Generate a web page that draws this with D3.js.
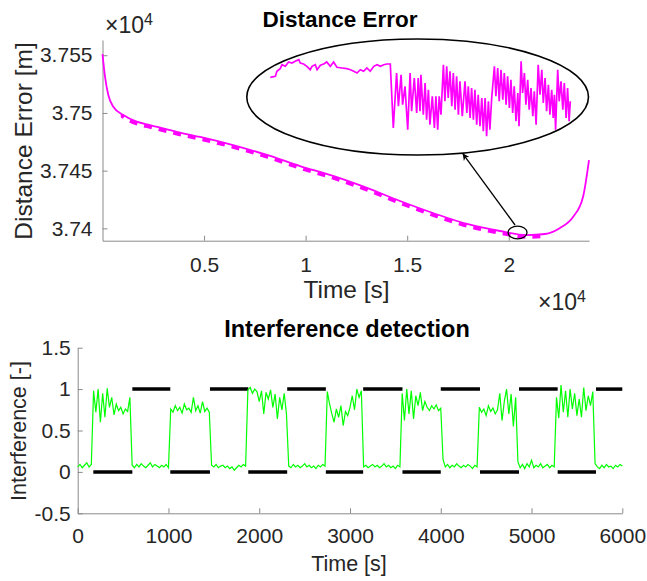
<!DOCTYPE html>
<html>
<head>
<meta charset="utf-8">
<script src="https://cdn.jsdelivr.net/npm/d3@7"></script>
<style>
  body { margin: 0; background: #fff; }
  svg { font-family: 'Liberation Sans', Arial, sans-serif; }
</style>
</head>
<body>
<div id="chart"></div>
<script>
// ---- data: distance error (top) ----
const distTime = [0, 123, 286, 532, 1024, 1684, 2338, 3653, 4800, 6424, 8098, 9723, 11347,
  13021, 14646, 16270, 17944, 19569, 20898, 21784, 22523, 23163, 23655, 23950]
const distError = [37551, 37531.4, 37515.5, 37505.4, 37498.2, 37492.4, 37489.5, 37483.7, 37479.2,
  37472.2, 37463.6, 37454.0, 37445.4, 37435.0, 37423.7, 37413.3, 37403.8, 37397.7, 37394.2,
  37395.1, 37400.3, 37409.8, 37427.2, 37459.2]

// zoomed detail shown inside the big ellipse (relative time, relative error)
const insetTime = [0.1, 1.8, 2.3, 3.4, 4, 5.1, 6.2, 7.3, 8.4, 9.6, 10.1, 11.2, 12.3, 13.4, 14, 15.1,
  15.7, 16.8, 17.9, 18.9, 20.1, 21.2, 22.3, 24, 25.6, 26.8, 27.9, 29, 30.1, 31.2, 32.3, 33.4, 34.6,
  35.7, 36.8, 37.9, 39, 40.1, 41.1,
  42.2, 42.8, 43.7, 44.2, 45, 45.9, 46.7, 47.2, 48.1, 48.9, 49.4, 50, 50.3, 51.1, 51.7, 52.2, 52.8,
  53.3, 54.1, 54.8, 55.3, 55.9, 56.4, 57,
  57.8, 58.3, 58.9, 59.4, 60, 60.6, 61.1, 61.7, 62.2, 62.8, 63.3, 64.1, 65, 65.6, 66.1, 66.7, 67.2,
  67.8, 68.3, 68.9, 69.4, 70, 70.6, 71.1, 71.7, 72.2, 72.8, 73.3, 73.9,
  74.8, 75.3, 75.9, 76.4, 77, 77.6, 78.1, 78.7, 79.2, 79.8, 80.3, 80.9, 81.4, 82, 82.6, 83,
  83.7, 84.2, 84.8, 85.3, 85.9, 86.4, 87, 87.6, 88.1, 88.7,
  89.4, 90, 90.6, 91.1, 91.7, 92.2, 92.8, 93.3, 93.9, 94.4, 94.8, 95.2,
  95.9, 96.4, 97, 97.6, 98.1, 98.7, 99.2, 99.7, 100.1]
const insetError = [5.27, 5.37, 5.87, 6.13, 6.53, 6.37, 6.8, 6.7, 6.87, 7.03, 6.7, 6.6, 6.37, 6.03,
  6.37, 6.53, 6.03, 6.47, 6.6, 6.8, 6.37, 6.8, 6.27, 6.2, 6.13, 6.03, 5.87, 5.7, 6.03, 5.87, 6.2,
  5.87, 6.37, 6.53, 6.37, 6.53, 6.6, 6.6, 0.2,
  5.7, 2.37, 5.53, 2.53, 4.37, 0.03, 5.7, 1.87, 5.2, 1.7, 5.2, 1.87, 5.53, 1.53, 4.7, 1.03, 4.03,
  0.53, 3.37, 0.2, 3.37, 0.03, 3.37, 1.53,
  6.53, 2.87, 6.37, 3.2, 5.87, 2.37, 5.7, 2.03, 5.37, 1.53, 4.87, 1.37, 4.87, 1.7, 4.37, 1.2, 4.2,
  1.03, 4.03, 0.53, 3.53, 0.37, 3.2, -0.13, 3.2, -0.63, 2.87, 0.03, 3.2,
  6.37, 3.37, 6.2, 2.87, 6.03, 3.03, 5.7, 2.53, 5.37, 2.2, 5.03, 1.7, 4.37, 0.87, 3.7, 0.37,
  6.87, 3.7, 5.7, 2.53, 5.03, 2.03, 4.2, 1.37, 3.87, 0.53,
  6.53, 3.53, 6.03, 2.7, 5.2, 1.87, 4.53, 1.53, 4.03, 1.2, 3.53, 0.03,
  6.03, 2.87, 4.87, 2.03, 4.7, 1.2, 4.2, 0.87, 2.87]

// annotation ellipses (data units of top plot)
const bigEllipse = { t: 15514, v: 37513.8, rt: 8410, rv: 50.3 }
const smallEllipse = { t: 20432, v: 37396.4, rt: 467, rv: 5.6 }
const arrowFrom = { t: 20310, v: 37402.9 }
const arrowTo = { t: 17727, v: 37465 }

const topXTicks = [5000, 10000, 15000, 20000]
const topXTickLabels = ['0.5', '1', '1.5', '2']
const topYTicks = [37400, 37450, 37500, 37550]
const topYTickLabels = ['3.74', '3.745', '3.75', '3.755']

// ---- data: interference detection (bottom) ----
const sampleStep = 25 // s
const detected = [
  0.06, 0.09, 0.05, 0.08, 0.11, 0.06, 0.09,
  0.98, 0.72, 1.0, 0.6, 0.95, 0.66, 1.01, 0.78, 0.9, 0.69, 0.82, 0.74, 0.78, 0.7, 0.76, 0.73, 0.9,
  0.08, 0.05, 0.09, 0.06, 0.1, 0.07, 0.05, 0.08, 0.11, 0.06, 0.09, 0.07, 0.05, 0.08, 0.06, 0.09, 0.05,
  0.76, 0.72, 0.8, 0.74, 0.78, 0.71, 0.82, 0.75, 0.77, 0.72, 0.9, 0.74, 0.8, 0.71, 0.85, 0.73, 0.77, 0.72,
  0.08, 0.06, 0.09, 0.05, 0.07, 0.08, 0.05, 0.07, 0.04, 0.06, 0.02, 0.05, 0.08, 0.06, 0.09, 0.07,
  0.99, 1.02, 0.95, 1.0, 0.97, 0.85, 0.98, 0.7, 0.96, 0.88, 0.99, 0.78, 0.94, 0.64, 0.9, 0.75, 0.95, 0.7,
  0.07, 0.05, 0.09, 0.06, 0.08, 0.05, 0.07, 0.1, 0.06, 0.08, 0.05, 0.07, 0.04, 0.08, 0.06, 0.09, 0.07,
  0.97, 0.82, 0.7, 0.6, 0.76, 0.66, 0.8, 0.56, 0.73, 0.68, 0.78, 0.92, 0.75, 1.0, 0.9, 0.98,
  0.06, 0.08, 0.05, 0.07, 0.09, 0.06, 0.08, 0.05, 0.07, 0.1, 0.06, 0.08, 0.05, 0.07, 0.04, 0.08, 0.06,
  0.95, 0.62, 1.0, 0.7, 0.98, 0.64, 0.92, 0.8, 0.96, 0.74, 0.85, 0.78, 0.74, 0.8, 0.76, 0.81, 0.74, 0.77,
  0.15, 0.06, 0.09, 0.05, 0.08, 0.06, 0.1, 0.07, 0.05, 0.08, 0.06, 0.09, 0.07, 0.04, 0.08, 0.06,
  0.78, 0.72, 0.76, 0.68, 0.8, 0.73, 0.77, 0.7, 0.75, 0.95, 0.62, 0.85, 1.0, 0.7, 0.94, 0.55, 0.9,
  0.12, 0.05, 0.09, 0.04, 0.1, 0.06, 0.14, 0.05, 0.08, 0.06, 0.1, 0.05, 0.07, 0.09, 0.05, 0.08, 0.06,
  0.9, 0.65, 1.05, 0.72, 0.98, 0.66, 1.0, 0.76, 0.95, 0.68, 0.88, 0.66, 1.02, 0.74, 0.92, 0.8, 0.97,
  0.1, 0.06, 0.04, 0.08, 0.05, 0.09, 0.06, 0.07, 0.04, 0.08, 0.06, 0.09, 0.07]

// true interference state, piecewise
const refStart = [172, 602, 1020, 1457, 1879, 2308, 2734, 3145, 3578, 4000, 4432, 4862, 5288, 5710]
const refEnd = [602, 1020, 1457, 1879, 2308, 2734, 3145, 3578, 4000, 4432, 4862, 5288, 5710, 6000]
const refLevel = [0, 1, 0, 1, 0, 1, 0, 1, 0, 1, 0, 1, 0, 1]

const botXTicks = [0, 1000, 2000, 3000, 4000, 5000, 6000]
const botXTickLabels = ['0', '1000', '2000', '3000', '4000', '5000', '6000']
const botYTicks = [-0.5, 0, 0.5, 1, 1.5]
const botYTickLabels = ['-0.5', '0', '0.5', '1', '1.5']

// ---- layout ----
const width = 647
const height = 581
const axisColor = '#8a8a8a'
const textColor = '#262626'

const svg = d3.select('#chart').append('svg')
  .attr('width', width)
  .attr('height', height)

const defs = svg.append('defs')

function styleAxis(g, fontSize) {
  g.attr('font-family', null).attr('font-size', null)
  g.select('.domain').attr('stroke', axisColor)
  g.selectAll('.tick line').attr('stroke', axisColor)
  g.selectAll('.tick text').attr('fill', textColor).style('font-size', fontSize + 'px')
}

// ================= top plot =================
const x1 = d3.scaleLinear().domain([0, 23950]).range([102.5, 589])
const y1 = d3.scaleLinear().domain([37389.3, 37563.2]).range([240.7, 40])

const topPlot = svg.append('g')

topPlot.append('g')
  .attr('transform', `translate(0, ${y1.range()[0]})`)
  .call(d3.axisBottom(x1).tickValues(topXTicks)
    .tickFormat((d, i) => topXTickLabels[i])
    .tickSizeInner(-5).tickSizeOuter(0).tickPadding(16))
  .call(g => styleAxis(g, 21))

topPlot.append('g')
  .attr('transform', `translate(${x1.range()[0]}, 0)`)
  .call(d3.axisLeft(y1).tickValues(topYTicks)
    .tickFormat((d, i) => topYTickLabels[i])
    .tickSizeInner(-5).tickSizeOuter(0).tickPadding(10))
  .call(g => styleAxis(g, 21))

const distData = distTime.map((t, i) => ({ t, v: distError[i] }))
const distLine = d3.line().x(d => x1(d.t)).y(d => y1(d.v)).curve(d3.curveMonotoneX)

defs.append('clipPath').attr('id', 'dashClip')
  .append('rect')
  .attr('x', x1(900)).attr('y', 0)
  .attr('width', x1(21800) - x1(900)).attr('height', 300)

// thick dashed trace under the main one
topPlot.append('path')
  .datum(distData)
  .attr('d', distLine)
  .attr('fill', 'none')
  .attr('stroke', '#ff00ff')
  .attr('stroke-width', 3.5)
  .attr('stroke-dasharray', '8,7')
  .attr('transform', 'translate(0, 2)')
  .attr('clip-path', 'url(#dashClip)')

topPlot.append('path')
  .datum(distData)
  .attr('d', distLine)
  .attr('fill', 'none')
  .attr('stroke', '#ff00ff')
  .attr('stroke-width', 1.8)

// annotations
topPlot.append('ellipse')
  .attr('cx', x1(bigEllipse.t)).attr('cy', y1(bigEllipse.v))
  .attr('rx', x1(bigEllipse.t + bigEllipse.rt) - x1(bigEllipse.t))
  .attr('ry', y1(bigEllipse.v) - y1(bigEllipse.v + bigEllipse.rv))
  .attr('fill', 'none').attr('stroke', '#000').attr('stroke-width', 1.6)

topPlot.append('ellipse')
  .attr('cx', x1(smallEllipse.t)).attr('cy', y1(smallEllipse.v))
  .attr('rx', x1(smallEllipse.t + smallEllipse.rt) - x1(smallEllipse.t))
  .attr('ry', y1(smallEllipse.v) - y1(smallEllipse.v + smallEllipse.rv))
  .attr('fill', 'none').attr('stroke', '#000').attr('stroke-width', 1.3)

defs.append('marker')
  .attr('id', 'arrowHead')
  .attr('viewBox', '0 0 10 10')
  .attr('refX', 10).attr('refY', 5)
  .attr('markerWidth', 7).attr('markerHeight', 7)
  .attr('markerUnits', 'userSpaceOnUse')
  .attr('orient', 'auto')
  .append('path')
  .attr('d', 'M0,0 L10,5 L0,10 L3,5 Z')
  .attr('fill', '#000')

topPlot.append('line')
  .attr('x1', x1(arrowFrom.t)).attr('y1', y1(arrowFrom.v))
  .attr('x2', x1(arrowTo.t)).attr('y2', y1(arrowTo.v))
  .attr('stroke', '#000').attr('stroke-width', 1.3)
  .attr('marker-end', 'url(#arrowHead)')

// inset trace
const xi = d3.scaleLinear().domain([0, 100.1]).range([270, 570.3])
const yi = d3.scaleLinear().domain([0, 7.3]).range([130, 57])
topPlot.append('path')
  .datum(insetTime.map((t, i) => ({ t, v: insetError[i] })))
  .attr('d', d3.line().x(d => xi(d.t)).y(d => yi(d.v)))
  .attr('fill', 'none')
  .attr('stroke', '#ff00ff')
  .attr('stroke-width', 1.7)

// texts
topPlot.append('text')
  .attr('x', 340).attr('y', 26.5)
  .attr('text-anchor', 'middle')
  .attr('font-weight', 'bold').attr('font-size', '22.5px')
  .attr('fill', '#000')
  .text('Distance Error')

topPlot.append('text')
  .attr('transform', 'translate(31.5, 141) rotate(-90)')
  .attr('text-anchor', 'middle')
  .attr('font-size', '24.5px').attr('fill', textColor)
  .text('Distance Error [m]')

topPlot.append('text')
  .attr('x', 346.5).attr('y', 298)
  .attr('text-anchor', 'middle')
  .attr('font-size', '24.5px').attr('fill', textColor)
  .text('Time [s]')

function exponent(g, x, y) {
  const t = g.append('text').attr('x', x).attr('y', y)
    .attr('font-size', '23px').attr('fill', textColor)
  t.append('tspan').text('\u00d710')
  t.append('tspan').attr('dy', -8).attr('font-size', '16px').text('4')
}
exponent(topPlot, 105, 33)
exponent(topPlot, 538, 309.5)

// ================= bottom plot =================
const x2 = d3.scaleLinear().domain([0, 6000]).range([77.7, 622.3])
const y2 = d3.scaleLinear().domain([-0.5, 1.5]).range([513.3, 347.7])

const botPlot = svg.append('g')

botPlot.append('g')
  .attr('transform', `translate(0, ${y2.range()[0]})`)
  .call(d3.axisBottom(x2).tickValues(botXTicks)
    .tickFormat((d, i) => botXTickLabels[i])
    .tickSizeInner(-5).tickSizeOuter(0).tickPadding(15))
  .call(g => styleAxis(g, 21))

botPlot.append('g')
  .attr('transform', `translate(${x2.range()[0]}, 0)`)
  .call(d3.axisLeft(y2).tickValues(botYTicks)
    .tickFormat((d, i) => botYTickLabels[i])
    .tickSizeInner(-5).tickSizeOuter(0).tickPadding(7))
  .call(g => styleAxis(g, 21))

// reference state (thick black)
botPlot.selectAll('line.ref')
  .data(refStart.map((s, i) => ({ s, e: refEnd[i], v: refLevel[i] })))
  .join('line')
  .attr('class', 'ref')
  .attr('x1', d => x2(d.s)).attr('x2', d => x2(d.e))
  .attr('y1', d => y2(d.v)).attr('y2', d => y2(d.v))
  .attr('stroke', '#000').attr('stroke-width', 3.5)

// detection output (green)
botPlot.append('path')
  .datum(detected)
  .attr('d', d3.line().x((d, i) => x2(i * sampleStep)).y(d => y2(d)))
  .attr('fill', 'none')
  .attr('stroke', '#00ff00')
  .attr('stroke-width', 1.2)

botPlot.append('text')
  .attr('x', 347).attr('y', 336.5)
  .attr('text-anchor', 'middle')
  .attr('font-weight', 'bold').attr('font-size', '23.5px')
  .attr('fill', '#000')
  .text('Interference detection')

botPlot.append('text')
  .attr('transform', 'translate(25.5, 431) rotate(-90)')
  .attr('text-anchor', 'middle')
  .attr('font-size', '21.5px').attr('fill', textColor)
  .text('Interference [-]')

botPlot.append('text')
  .attr('x', 349).attr('y', 571)
  .attr('text-anchor', 'middle')
  .attr('font-size', '21.5px').attr('fill', textColor)
  .text('Time [s]')
</script>
</body>
</html>
